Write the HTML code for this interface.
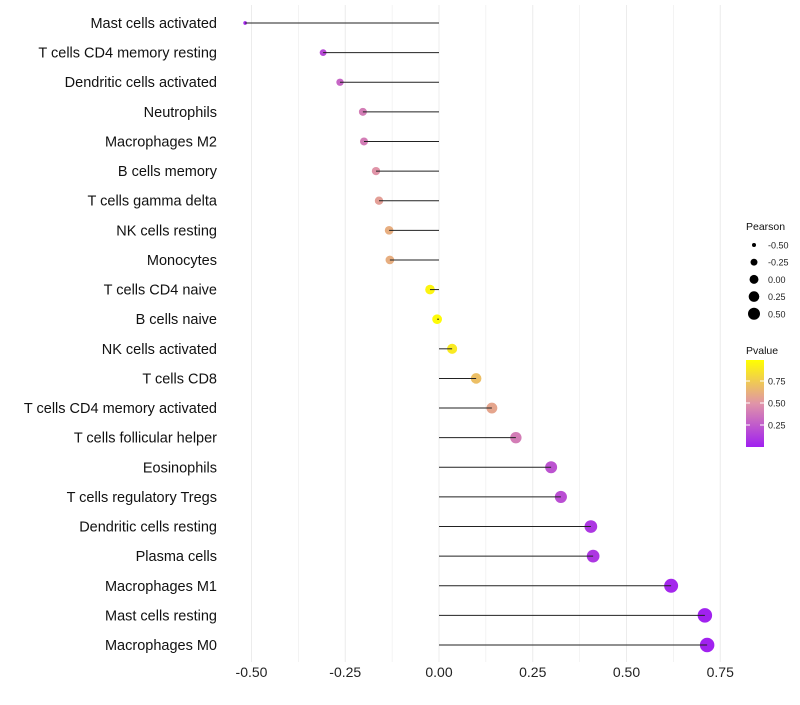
<!DOCTYPE html>
<html><head><meta charset="utf-8"><style>
body{margin:0;background:#fff;font-family:"Liberation Sans",sans-serif}
svg text{font-family:"Liberation Sans",sans-serif}
</style></head><body>
<svg id="chart" width="800" height="700">
<defs><linearGradient id="pg" x1="0" y1="1" x2="0" y2="0">
<stop offset="0" stop-color="#A020F0"/><stop offset="0.5" stop-color="#E094A8"/><stop offset="1" stop-color="#FFFF00"/></linearGradient></defs>
<g id="grid"></g><g id="dots"></g><g id="marks"></g><g id="labels"></g><g id="legend"></g>
</svg>
<script>
const categories=["Mast cells activated","T cells CD4 memory resting","Dendritic cells activated","Neutrophils","Macrophages M2","B cells memory","T cells gamma delta","NK cells resting","Monocytes","T cells CD4 naive","B cells naive","NK cells activated","T cells CD8","T cells CD4 memory activated","T cells follicular helper","Eosinophils","T cells regulatory  Tregs","Dendritic cells resting","Plasma cells","Macrophages M1","Mast cells resting","Macrophages M0"];
const pearson=[-0.517,-0.309,-0.264,-0.203,-0.2,-0.168,-0.16,-0.133,-0.131,-0.024,-0.005,0.035,0.099,0.141,0.205,0.299,0.325,0.405,0.411,0.619,0.709,0.715];
const pvalue=[0.03,0.18,0.3,0.4,0.4,0.5,0.55,0.62,0.62,0.95,0.98,0.9,0.7,0.58,0.4,0.22,0.2,0.1,0.1,0.03,0.01,0.01];
const xTicks=[-0.5,-0.25,0,0.25,0.5,0.75];
const xTickLabels=["-0.50","-0.25","0.00","0.25","0.50","0.75"];
const sizeLegend=[-0.5,-0.25,0,0.25,0.5];
const pTicks=[0.25,0.5,0.75];
const NS="http://www.w3.org/2000/svg";
const x=v=>439+v*375;
const y=i=>23+i*29.62;
const rad=v=>Math.sqrt(Math.max(1,4+40*(v+0.5)));
const radL=v=>Math.sqrt(Math.max(1,4+32*(v+0.5)));
function lerp(a,b,t){return a.map((c,i)=>Math.round(c+(b[i]-c)*t));}
function col(p){const s=[[160,32,240],[224,148,168],[255,255,0]];
 const c=p<0.5?lerp(s[0],s[1],p/0.5):lerp(s[1],s[2],(p-0.5)/0.5);return `rgb(${c})`;}
function el(t,a,parent){const e=document.createElementNS(NS,t);for(const k in a)e.setAttribute(k,a[k]);parent.appendChild(e);return e;}
const grid=document.getElementById('grid'),dots=document.getElementById('dots'),marks=document.getElementById('marks'),labels=document.getElementById('labels'),leg=document.getElementById('legend');
for(let v=-0.5;v<=0.76;v+=0.125){const l=el('line',{x1:x(v),x2:x(v),y1:5,y2:662,stroke:'#ececec','stroke-width':Math.abs((v*8)%2)<0.01?1:0.6},grid);

}
xTicks.forEach((v,i)=>{const t=el('text',{x:x(v),y:677,'text-anchor':'middle','font-size':14,fill:'#222'},labels);t.textContent=xTickLabels[i];

});
categories.forEach((c,i)=>{
 const t=el('text',{x:217,y:y(i)+5,'text-anchor':'end','font-size':14.5,fill:'#111'},labels);t.textContent=c;
 
 
 const d=el('circle',{cx:x(pearson[i]),cy:y(i),r:rad(pearson[i]),fill:col(pvalue[i])},dots);
 
 
 const ln=el('line',{x1:x(0),x2:x(pearson[i]),y1:y(i),y2:y(i),stroke:'#222','stroke-width':1},marks);
 
 
});
let t=el('text',{x:746,y:230,'font-size':10.5,fill:'#111'},leg);t.textContent='Pearson';


sizeLegend.forEach((v,i)=>{const cy=245+i*17.2;
 const c=el('circle',{cx:754,cy:cy,r:radL(v),fill:'#000'},leg);
 
 
 const tt=el('text',{x:768,y:cy+3.5,'font-size':9,fill:'#222'},leg);tt.textContent=v.toFixed(2);
 
 });
t=el('text',{x:746,y:354,'font-size':10.5,fill:'#111'},leg);t.textContent='Pvalue';


const bar=el('rect',{x:746,y:360,width:18,height:87,fill:'url(#pg)'},leg);


pTicks.forEach(p=>{const yy=447-p*88;
 el('line',{x1:746,x2:750,y1:yy,y2:yy,stroke:'#fff'},leg);el('line',{x1:760,x2:764,y1:yy,y2:yy,stroke:'#fff'},leg);
 const tt=el('text',{x:768,y:yy+3.5,'font-size':9,fill:'#222'},leg);tt.textContent=p.toFixed(2);
 
 });
</script>
</body></html>
